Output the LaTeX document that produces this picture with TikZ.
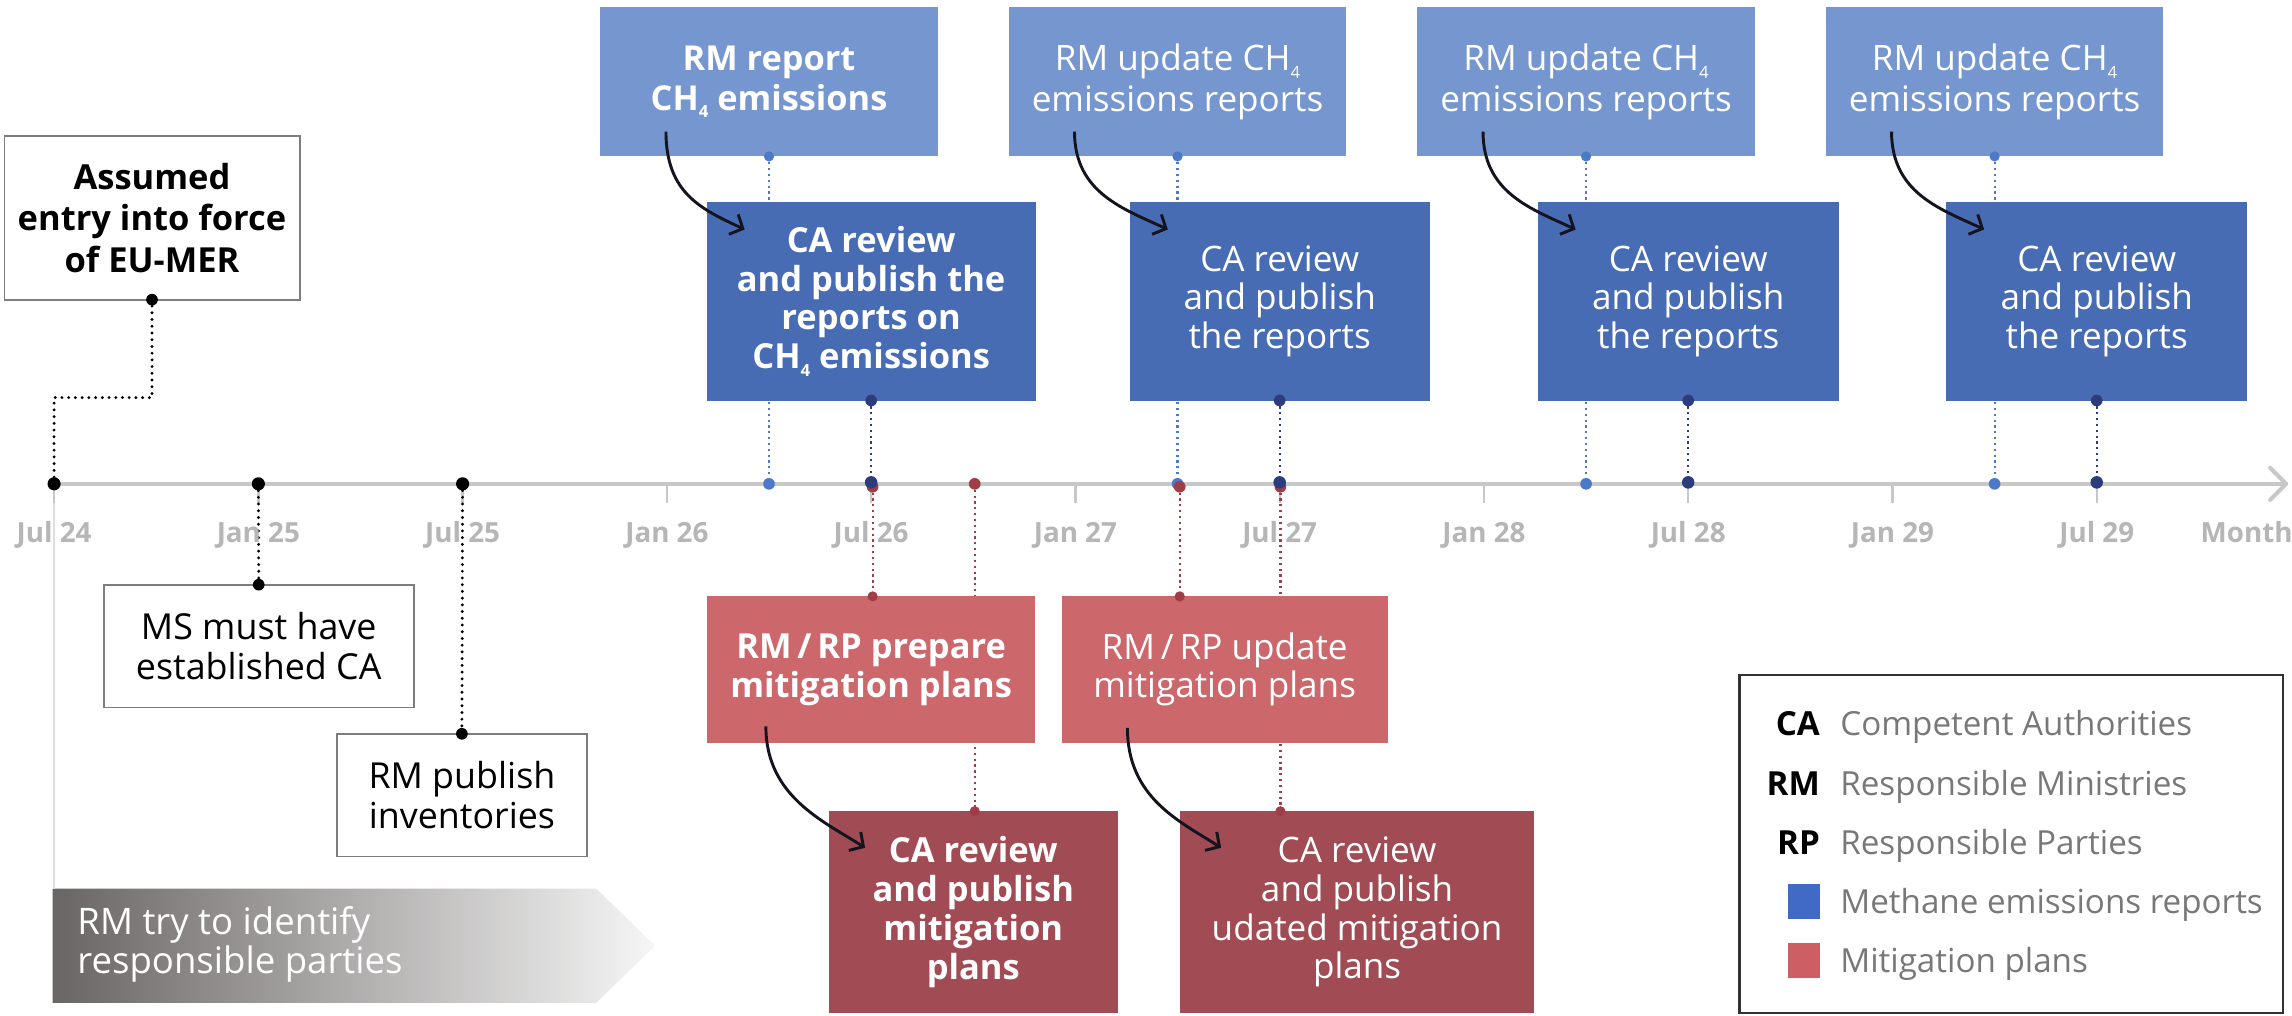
\documentclass[tikz,border=0pt]{standalone}
\usepackage{fontspec}
\setmainfont{Open Sans}
\usetikzlibrary{arrows.meta,calc,backgrounds}

\definecolor{tblue}{RGB}{118,150,208}
\definecolor{cblue}{RGB}{72,108,180}
\definecolor{rlight}{RGB}{204,104,108}
\definecolor{rdark}{RGB}{161,76,84}
\definecolor{dotlight}{RGB}{76,122,200}
\definecolor{dotnavy}{RGB}{45,60,125}
\definecolor{dotred}{RGB}{160,62,72}
\definecolor{axisgray}{RGB}{200,200,200}
\definecolor{labgray}{RGB}{182,182,182}
\definecolor{boxgray}{RGB}{125,125,125}
\definecolor{leggray}{RGB}{120,120,120}
\definecolor{legborder}{RGB}{50,50,50}
\definecolor{legblue}{RGB}{65,105,198}
\definecolor{legred}{RGB}{205,95,100}
\definecolor{grL}{RGB}{105,101,100}
\definecolor{grR}{RGB}{246,246,246}
\definecolor{arrowblack}{RGB}{20,20,30}
\definecolor{thingray}{RGB}{222,222,222}

\newcommand\fTop{\fontsize{24}{27.5}\selectfont}
\newcommand\fTopB{\fontsize{23.5}{27.5}\selectfont\bfseries}
\newcommand\fReg{\fontsize{24}{26.5}\selectfont}
\newcommand\fBold{\fontsize{23.6}{26.5}\selectfont\bfseries}
\newcommand\fBoldA{\fontsize{23.6}{28.5}\selectfont\bfseries}
\newcommand\fSm{\fontsize{24.5}{27}\selectfont}
\newcommand\fLab{\fontsize{19}{19}\selectfont\bfseries}
\newcommand\fLeg{\fontsize{22.7}{23}\selectfont}
\newcommand\fLegB{\fontsize{22.7}{23}\selectfont\bfseries}
\newcommand\fTry{\fontsize{25}{27}\selectfont}
\newcommand\chq{CH\raisebox{-0.22em}{\fontsize{11.5}{11.5}\selectfont 4}}

\begin{document}
\begin{tikzpicture}[x=1pt,y=-1pt,
  every node/.style={inner sep=0pt, outer sep=0pt},
  topbox/.style={fill=tblue, text=white, align=center, minimum width=231pt, minimum height=102pt, font=\fTop},
  cabox/.style={fill=cblue, text=white, align=center, minimum height=136pt, font=\fReg},
  mpbox/.style={fill=rlight, text=white, align=center, minimum height=100pt, font=\fReg},
  mcbox/.style={fill=rdark, text=white, align=center, minimum height=138pt, font=\fReg},
  wbox/.style={draw=boxgray, line width=1.2pt, fill=white, text=black, align=center, font=\fSm},
  tlab/.style={text=labgray, font=\fLab, anchor=base},
  dotblack/.style={draw=black, line width=2.2pt, dash pattern=on 0pt off 4.6pt, line cap=round},
  dotbl/.style={draw=dotlight, line width=1.5pt, dash pattern=on 1.5pt off 2.5pt},
  dotnv/.style={draw=dotnavy, line width=1.5pt, dash pattern=on 1.5pt off 2.5pt},
  dotrd/.style={draw=dotred, line width=1.5pt, dash pattern=on 1.5pt off 2.5pt},
  curvy/.style={draw=arrowblack, line width=2pt, -{Straight Barb[length=7pt,width=15pt,line width=2pt]}},
  legkey/.style={font=\fLegB, text=black, anchor=base east},
  legtxt/.style={font=\fLeg, text=leggray, anchor=base west},
]
\useasboundingbox (0,0) rectangle (1568,695);

% timeline coordinates
\foreach \k in {0,...,10} {
  \coordinate (T\k) at ({37+139.74*\k},331);
  \coordinate (H\k) at ({37+139.74*(\k+0.5)},331);
}
\coordinate (axend) at (1564,331);
\coordinate (r1) at ($(T4)+(1,2)$);
\coordinate (r2) at ($(H4)+(1,0)$);
\coordinate (r3) at ($(H5)+(1.5,2)$);
\coordinate (r4) at ($(T6)+(0.5,2)$);

% white boxes
\node[wbox, font=\fBoldA, minimum width=202pt, minimum height=112pt] (as) at (104,149) {Assumed\\entry into force\\of EU-MER};
\node[wbox, minimum width=212pt, minimum height=84pt] (ms) at (177,442) {MS must have\\established CA};
\node[wbox, minimum width=171pt, minimum height=84pt] (rp) at (316,544) {RM publish\\inventories};

% top row
\node[topbox, font=\fTopB] (t1) at ($(H3)+(0,-275)$) {RM report\\\chq{} emissions};
\node[topbox] (t2) at ($(H5)+(0,-275)$) {RM update \chq\\emissions reports};
\node[topbox] (t3) at ($(H7)+(0,-275)$) {RM update \chq\\emissions reports};
\node[topbox] (t4) at ($(H9)+(0,-275)$) {RM update \chq\\emissions reports};

% CA row
\node[cabox, font=\fBold, minimum width=225pt] (c1) at ($(T4)+(0,-125)$) {CA review\\and publish the\\reports on\\\chq{} emissions};
\node[cabox, minimum width=205pt] (c2) at ($(T6)+(0,-125)$) {CA review\\and publish\\the reports};
\node[cabox, minimum width=206pt] (c3) at ($(T8)+(0,-125)$) {CA review\\and publish\\the reports};
\node[cabox, minimum width=206pt] (c4) at ($(T10)+(0,-125)$) {CA review\\and publish\\the reports};

% mitigation
\node[mpbox, font=\fBold, minimum width=224pt] (p1) at ($(T4)+(0,127)$) {RM\,/\,RP prepare\\mitigation plans};
\node[mpbox, minimum width=223pt] (p2) at (837.8,458) {RM\,/\,RP update\\mitigation plans};
\node[mcbox, font=\fBold, minimum width=198pt] (m1) at ($(H4)+(0,293)$) {CA review\\and publish\\mitigation\\plans};
\node[mcbox, minimum width=242pt] (m2) at (928.4,624) {CA review\\and publish\\udated mitigation\\plans};

% legend
\node[draw=legborder, line width=1.5pt, minimum width=372pt, minimum height=231pt] (leg) at (1376,577.5) {};
\node[legkey] (kca) at (1245,503.5) {CA};
\node[legtxt] (dca) at (1259,503.5) {Competent Authorities};
\node[legkey] (krm) at (1245,544) {RM};
\node[legtxt] (drm) at (1259,544) {Responsible Ministries};
\node[legkey] (krp) at (1245,584.5) {RP};
\node[legtxt] (drp) at (1259,584.5) {Responsible Parties};
\node[fill=legblue, minimum width=22pt, minimum height=24pt] (sqb) at (1234,617) {};
\node[legtxt] (dmb) at (1259,625) {Methane emissions reports};
\node[fill=legred, minimum width=22pt, minimum height=24pt] (sqr) at (1234,657) {};
\node[legtxt] (dmr) at (1259,665.5) {Mitigation plans};

% axis labels
\foreach \k/\t in {0/Jul 24,1/Jan 25,2/Jul 25,3/Jan 26,4/Jul 26,5/Jan 27,6/Jul 27,7/Jan 28,8/Jul 28,9/Jan 29,10/Jul 29} {
  \node[tlab] (L\k) at ($(T\k)+(0,40)$) {\t};
}
\node[tlab] (Lm) at (1537,371) {Month};

% gradient arrow text
\node[anchor=west, align=left, text=white, font=\fTry] (rmtry) at (53,646) {RM try to identify\\responsible parties};

\begin{pgfonlayer}{background}
  \fill[white] (0,0) rectangle (1568,695);
  \shade[left color=grL, right color=grR] (36,608) -- (408,608) -- (448,647) -- (408,686) -- (36,686) -- cycle;
  \draw[thingray, line width=1pt] (T0) -- ++(0,277);
  \foreach \k in {0,...,10} { \draw[axisgray, line width=1.6pt] (T\k) -- ++(0,13); }
  \draw[axisgray, line width=2.8pt] (T0) -- (axend);
  \draw[axisgray, line width=2.8pt, line join=round, line cap=round] ($(axend)+(-11,-11)$) -- (axend) -- ($(axend)+(-11,11)$);
  % black dotted
  \draw[dotblack] (T0) |- ([yshift=-67pt]as.south) -- (as.south);
  \draw[dotblack] (T1) -- (ms.north);
  \draw[dotblack] (T2) -- (rp.north);
  % blue dotted
  \draw[dotbl] (t1.south) -- (H3);
  \draw[dotbl] (t2.south) -- (H5);
  \draw[dotbl] (t3.south) -- (H7);
  \draw[dotbl] (t4.south) -- (H9);
  \draw[dotnv] (c1.south) -- (T4);
  \draw[dotnv] (c2.south) -- (T6);
  \draw[dotnv] (c3.south) -- (T8);
  \draw[dotnv] (c4.south) -- (T10);
  % red dotted
  \draw[dotrd] (r1) -- (r1 |- p1.north);
  \draw[dotrd] (r2) -- (r2 |- m1.north);
  \draw[dotrd] (r3) -- (r3 |- p2.north);
  \draw[dotrd] (r4) -- (r4 |- m2.north);
\end{pgfonlayer}

% dots
\foreach \p in {T0,T1,T2} { \fill[black] (\p) circle[radius=4.5pt]; }
\fill[black] (as.south) circle[radius=4pt];
\fill[black] (ms.north) circle[radius=4pt];
\fill[black] (rp.north) circle[radius=4pt];
\foreach \p in {H3,H5,H7,H9} { \fill[dotlight] (\p) circle[radius=4pt]; }
\foreach \p in {t1,t2,t3,t4} { \fill[dotlight] (\p.south) circle[radius=3.5pt]; }
\foreach \p in {r1,r2,r3,r4} { \fill[dotred] (\p) circle[radius=4pt]; }
\fill[dotred] (r1 |- p1.north) circle[radius=3.5pt];
\fill[dotred] (r3 |- p2.north) circle[radius=3.5pt];
\fill[dotred] (r2 |- m1.north) circle[radius=3.5pt];
\fill[dotred] (r4 |- m2.north) circle[radius=3.5pt];
\foreach \p in {T4,T6,T8,T10} { \fill[dotnavy] ($(\p)+(0,-1)$) circle[radius=4.3pt]; }
\foreach \p in {c1,c2,c3,c4} { \fill[dotnavy] (\p.south) circle[radius=4pt]; }

% curved arrows
\foreach \a/\b in {t1/c1,t2/c2,t3/c3,t4/c4} {
  \draw[curvy] ([xshift=45pt,yshift=17pt]\a.south west) .. controls +(0,42) and +(-30,-14) .. ([xshift=26pt,yshift=-19pt]\b.north west);
}
\draw[curvy] ([xshift=40pt,yshift=11pt]p1.south west) .. controls +(0,48) and +(-28,-18) .. ([xshift=25pt,yshift=-25pt]m1.north west);
\draw[curvy] ([xshift=45pt,yshift=10pt]p2.south west) .. controls +(0,48) and +(-28,-18) .. ([xshift=28pt,yshift=-25pt]m2.north west);
\end{tikzpicture}
\end{document}
